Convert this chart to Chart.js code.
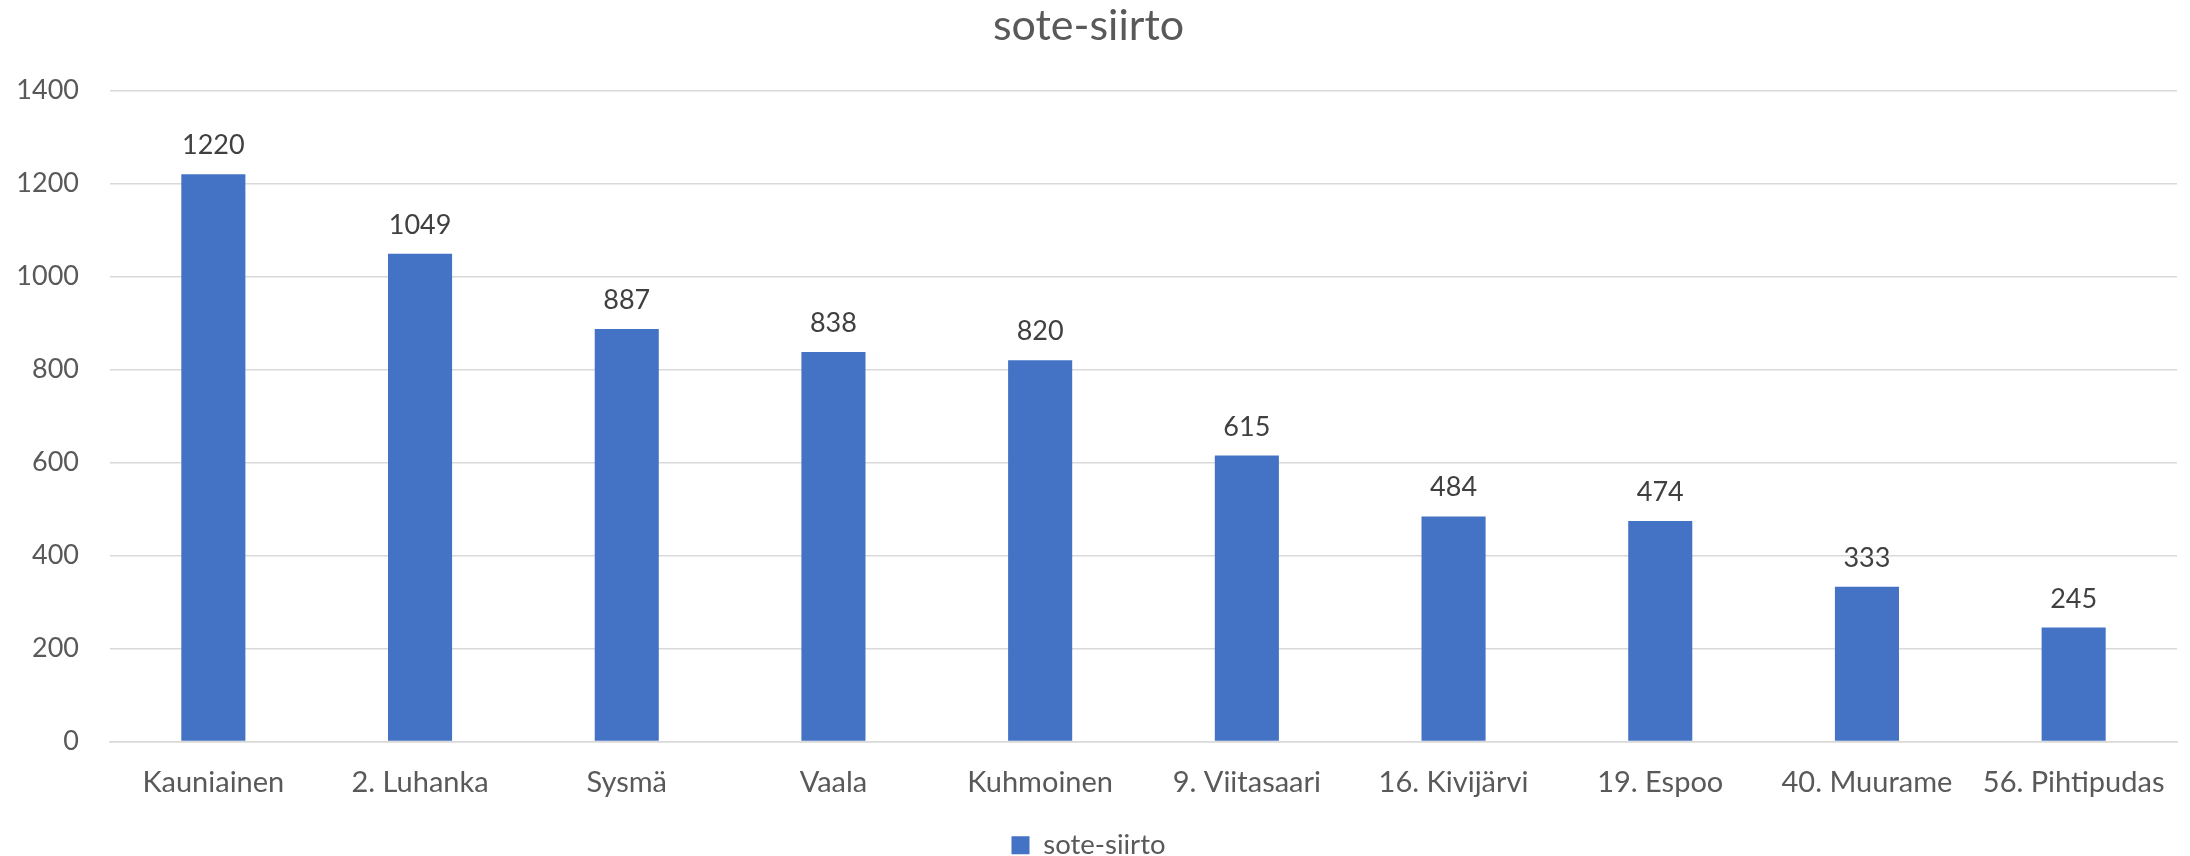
<!DOCTYPE html>
<html>
<head>
<meta charset="utf-8">
<script src="https://cdn.jsdelivr.net/npm/chart.js@4/dist/chart.umd.min.js"></script>
<style>
html,body{margin:0;padding:0;background:#fff;}
#wrap{width:2190px;height:856px;position:relative;}
</style>
</head>
<body>
<div id="wrap"><canvas id="c" width="2190" height="856"></canvas></div>
<script>
const categories = ["Kauniainen","2. Luhanka","Sysmä","Vaala","Kuhmoinen","9. Viitasaari","16. Kivijärvi","19. Espoo","40. Muurame","56. Pihtipudas"];
const values = [1220,1049,887,838,820,615,484,474,333,245];
const yTicks = [0,200,400,600,800,1000,1200,1400];
const seriesName = "sote-siirto";
const titleText = "sote-siirto";

const FONT = "Lato, 'Noto Sans', sans-serif";

const dataLabels = {
  id: 'dataLabels',
  afterDatasetsDraw(chart) {
    const ctx = chart.ctx;
    ctx.save();
    ctx.font = "27px " + FONT;
    ctx.fillStyle = "#404040";
    ctx.textAlign = "center";
    ctx.textBaseline = "alphabetic";
    chart.getDatasetMeta(0).data.forEach((bar, i) => {
      ctx.fillText(String(chart.data.datasets[0].data[i]), bar.x, bar.y - 20);
    });
    ctx.restore();
  }
};

new Chart(document.getElementById('c'), {
  type: 'bar',
  data: {
    labels: categories,
    datasets: [{
      label: seriesName,
      data: values,
      backgroundColor: '#4472C4',
      borderWidth: 0,
      barPercentage: 0.31,
      categoryPercentage: 1.0
    }]
  },
  options: {
    responsive: false,
    animation: false,
    devicePixelRatio: 1,
    layout: { padding: { left: 0, right: 13, top: 0, bottom: -13 } },
    plugins: {
      title: {
        display: true,
        text: titleText,
        color: '#595959',
        font: { family: FONT, size: 43, weight: 'normal' },
        padding: { top: 0, bottom: 39 }
      },
      legend: {
        display: true,
        position: 'bottom',
        labels: {
          color: '#595959',
          font: { family: FONT, size: 27.5 },
          boxWidth: 18,
          boxHeight: 18,
          padding: 0
        }
      },
      tooltip: { enabled: false }
    },
    scales: {
      x: {
        afterFit(scale) { scale.height = 90; },
        grid: { display: false, drawTicks: false },
        border: { display: true, color: '#d9d9d9', width: 1.5 },
        ticks: {
          color: '#595959',
          font: { family: FONT, size: 29 },
          padding: 24,
          maxRotation: 0,
          autoSkip: false
        }
      },
      y: {
        min: 0,
        max: 1400,
        afterFit(scale) { scale.width = 110; },
        afterBuildTicks(scale) { scale.ticks = yTicks.map(v => ({ value: v })); },
        grid: { color: '#d9d9d9', lineWidth: 1.5, drawTicks: false },
        border: { display: false },
        ticks: {
          color: '#595959',
          font: { family: FONT, size: 27 },
          padding: 31,
          callback: (v) => String(v)
        }
      }
    }
  },
  plugins: [dataLabels]
});
</script>
</body>
</html>
